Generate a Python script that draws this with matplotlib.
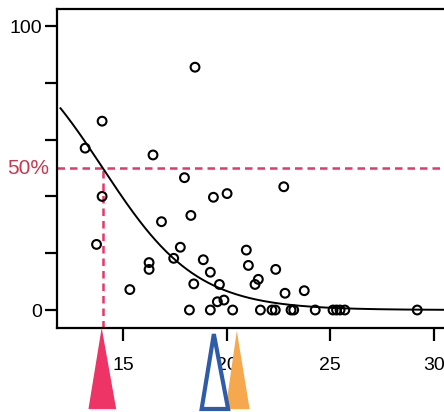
import numpy as np
import matplotlib.pyplot as plt
from matplotlib.patches import Polygon
from matplotlib.transforms import blended_transform_factory

# 观测点 (x, 百分比)
x_obs = [13.15, 13.97, 13.97, 13.70, 15.31, 16.43, 16.24, 16.24, 16.84, 17.43,
         17.75, 17.95, 18.26, 18.46, 18.86, 19.20, 18.40, 19.64, 19.35, 20.01,
         19.54, 19.86, 20.94, 21.04, 21.36, 21.52, 22.36, 22.75, 22.81, 23.74,
         18.19, 19.20, 20.28, 21.62, 22.18, 22.34, 23.10, 23.23, 24.27, 25.13,
         25.30, 25.47, 25.70, 29.20]
y_obs = [57.0, 66.5, 40.0, 23.1, 7.2, 54.6, 16.7, 14.3, 31.1, 18.2,
         22.1, 46.6, 33.3, 85.5, 17.7, 13.3, 9.2, 9.0, 39.7, 41.0,
         2.9, 3.5, 21.1, 15.7, 9.0, 10.8, 14.3, 43.4, 5.9, 6.8,
         0, 0, 0, 0, 0, 0, 0, 0, 0, 0,
         0, 0, 0, 0]

# 拟合曲线参数
curve_top = 100
curve_x50 = 14.0
curve_slope = 0.44
curve_start = 11.96

# 三角标记的位置
mark_x = [13.98, 19.42, 20.52]
mark_names = ["red", "blue", "orange"]

RED = "#ee3366"
RED_TXT = "#c8384f"
BLUE = "#2f5ca8"
ORANGE = "#f6a84f"

plt.rcParams['font.family'] = ['Liberation Sans', 'DejaVu Sans']

fig = plt.figure(figsize=(4.44, 4.12), dpi=100)
ax = fig.add_axes([57 / 444, 84.3 / 412, 389 / 444, 318.7 / 412])
ax.set_xlim(11.79, 30.59)
ax.set_ylim(-6.23, 106.0)

# 曲线
xc = np.linspace(curve_start, 31, 300)
yc = curve_top / (1 + np.exp(curve_slope * (xc - curve_x50)))
ax.plot(xc, yc, color="black", lw=1.4, zorder=3)

# 50% 虚线
ax.axhline(50, color=RED, lw=1.8, ls=(0, (3.0, 2.0)), zorder=2)
ax.plot([curve_x50, curve_x50], [-6.23, 50], color=RED, lw=1.8,
        ls=(0, (3.0, 2.0)), zorder=2)

# 点
ax.scatter(x_obs, y_obs, s=40, facecolors="none", edgecolors="black",
           linewidths=1.5, zorder=4)

# 坐标轴
for s in ["left", "bottom", "top"]:
    ax.spines[s].set_linewidth(1.6)
ax.spines["right"].set_visible(False)
ax.set_yticks([0, 20, 40, 60, 80, 100])
ax.set_yticklabels(["0", "", "", "", "", "100"])
ax.set_xticks([15, 20, 25, 30])
ax.tick_params(axis="both", direction="out", length=9, width=1.6,
               labelsize=14)
ax.tick_params(axis="y", pad=2)
ax.tick_params(axis="x", pad=12)

trans = blended_transform_factory(ax.transAxes, ax.transData)
ax.text(-0.02, 50, "50%", transform=trans, ha="right", va="center",
        color=RED_TXT, fontsize=15)

# 三角标记 (画在坐标轴下方)
tr = blended_transform_factory(ax.transData, ax.transAxes)
bot = -0.255
tri_o = Polygon([[mark_x[2] - 0.58, bot], [mark_x[2] + 0.58, bot], [mark_x[2] - 0.04, -0.01]],
                closed=True, transform=tr, clip_on=False, facecolor=ORANGE,
                edgecolor="none", zorder=5)
tri_b = Polygon([[mark_x[1] - 0.64, bot], [mark_x[1] + 0.64, bot], [mark_x[1] - 0.05, -0.02]],
                closed=True, transform=tr, clip_on=False, facecolor="white",
                edgecolor=BLUE, lw=3, joinstyle="miter", zorder=6)
tri_r = Polygon([[mark_x[0] - 0.67, bot], [mark_x[0] + 0.67, bot], [mark_x[0] - 0.03, 0.0]],
                closed=True, transform=tr, clip_on=False, facecolor=RED,
                edgecolor="none", zorder=5)
for t in [tri_o, tri_b, tri_r]:
    ax.add_patch(t)

plt.savefig("out.png", dpi=100)
